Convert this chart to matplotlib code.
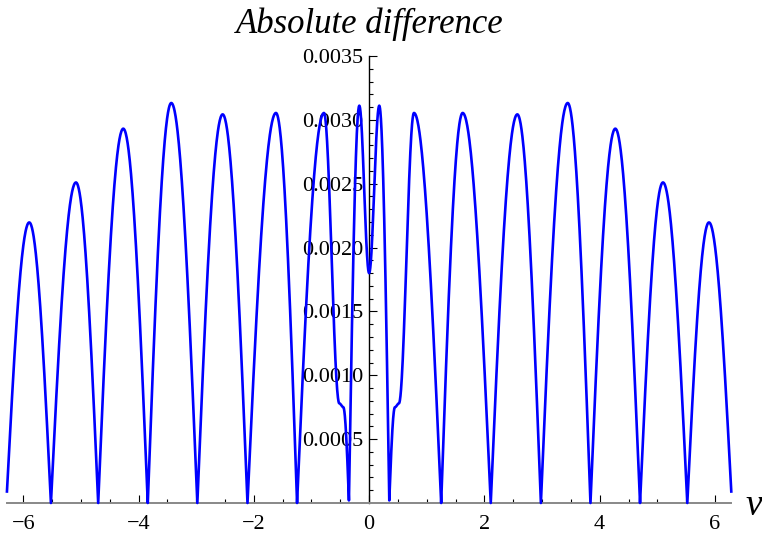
import matplotlib
import matplotlib.pyplot as plt
import numpy as np

matplotlib.use("Agg")

# Key points, left to right over -2*pi..2*pi:
# cusps (zeros), peaks, the shoulders next to +-0.35 and the dip at nu = 0
nu_key = [-6.283, -5.896, -5.52, -5.086, -4.70, -4.265, -3.84, -3.432,
          -2.98, -2.541, -2.11, -1.616, -1.25, -0.783, -0.517, -0.448,
          -0.35, -0.17, 0.0, 0.176, 0.35, 0.448, 0.517, 0.778, 1.25,
          1.623, 2.11, 2.571, 2.98, 3.445, 3.84, 4.271, 4.70, 5.098,
          5.52, 5.896, 6.283]
diff_key = [0.00009, 0.002197, 0.0, 0.00251, 0.0, 0.002931, 0.0, 0.003132,
            0.0, 0.003043, 0.0, 0.003054, 0.0, 0.003054, 0.00078, 0.00075,
            0.00002, 0.003111, 0.0018, 0.003111, 0.00002, 0.00075, 0.00078,
            0.003054, 0.0, 0.003054, 0.0, 0.003043, 0.0, 0.003132, 0.0,
            0.002931, 0.0, 0.00251, 0.0, 0.002197, 0.00009]

x_major = [-6, -4, -2, 0, 2, 4, 6]
x_labels = ["\u22126", "\u22124", "\u22122", "0", "2", "4", "6"]
y_major = [0.0005, 0.0010, 0.0015, 0.0020, 0.0025, 0.0030, 0.0035]
y_labels = ["0.0005", "0.0010", "0.0015", "0.0020", "0.0025", "0.0030",
            "0.0035"]

# Values below this are treated as a sharp cusp on the axis
CUSP_LEVEL = 0.0002


def segment(x0, y0, x1, y1, n=80):
    """
    Joins two key points: steep at a cusp, flat at a peak, shoulder or dip.
    """
    t = np.linspace(0, 1, n)
    cusp0 = y0 < CUSP_LEVEL
    cusp1 = y1 < CUSP_LEVEL
    if cusp0 and not cusp1:
        s = np.sin(np.pi / 2 * t)
    elif cusp1 and not cusp0:
        s = 1 - np.cos(np.pi / 2 * t)
    else:
        s = (1 - np.cos(np.pi * t)) / 2
    return x0 + (x1 - x0) * t, y0 + (y1 - y0) * s


xs, ys = [], []
for i in range(len(nu_key) - 1):
    sx, sy = segment(nu_key[i], diff_key[i], nu_key[i + 1], diff_key[i + 1])
    xs.append(sx)
    ys.append(sy)
nu = np.concatenate(xs)
diff = np.concatenate(ys)

plt.rcParams["font.family"] = ["Liberation Serif", "DejaVu Serif"]

fig = plt.figure(figsize=(7.62, 5.33), dpi=100)
ax = fig.add_axes([0.0091, 0.0563, 0.9506, 0.8386])

ax.plot(nu, diff, color="#0000ff", lw=1.9, zorder=3, clip_on=False)

ax.set_xlim(-2 * np.pi, 2 * np.pi)
ax.set_ylim(0, 0.0035)

# Axes cross at the origin, Mathematica style
ax.spines["top"].set_visible(False)
ax.spines["right"].set_visible(False)
ax.spines["left"].set_position(("data", 0))
ax.spines["left"].set_linewidth(1.0)
ax.spines["bottom"].set_color("#888888")
ax.spines["bottom"].set_linewidth(1.4)

ax.set_xticks(x_major)
ax.set_xticklabels(x_labels)
ax.set_xticks([v for v in np.arange(-6, 6.5, 0.5) if v not in x_major],
              minor=True)
ax.set_yticks(y_major)
ax.set_yticklabels(y_labels)
ax.set_yticks(np.arange(1, 35) * 0.0001, minor=True)

ax.tick_params(axis="both", which="both", direction="in", color="black",
               width=0.8, labelsize=16)
ax.tick_params(axis="both", which="major", length=6)
ax.tick_params(axis="both", which="minor", length=3)
ax.tick_params(axis="x", which="major", pad=9)
ax.tick_params(axis="y", which="major", pad=4)

fig.text(370 / 762, 1 - 24 / 533, "Absolute difference", ha="center",
         va="center", fontsize=25, style="italic")
fig.text(754 / 762, 1 - 506 / 533, "\u03bd", ha="center", va="center",
         fontsize=27, style="italic")

fig.savefig("out.png", dpi=100)
